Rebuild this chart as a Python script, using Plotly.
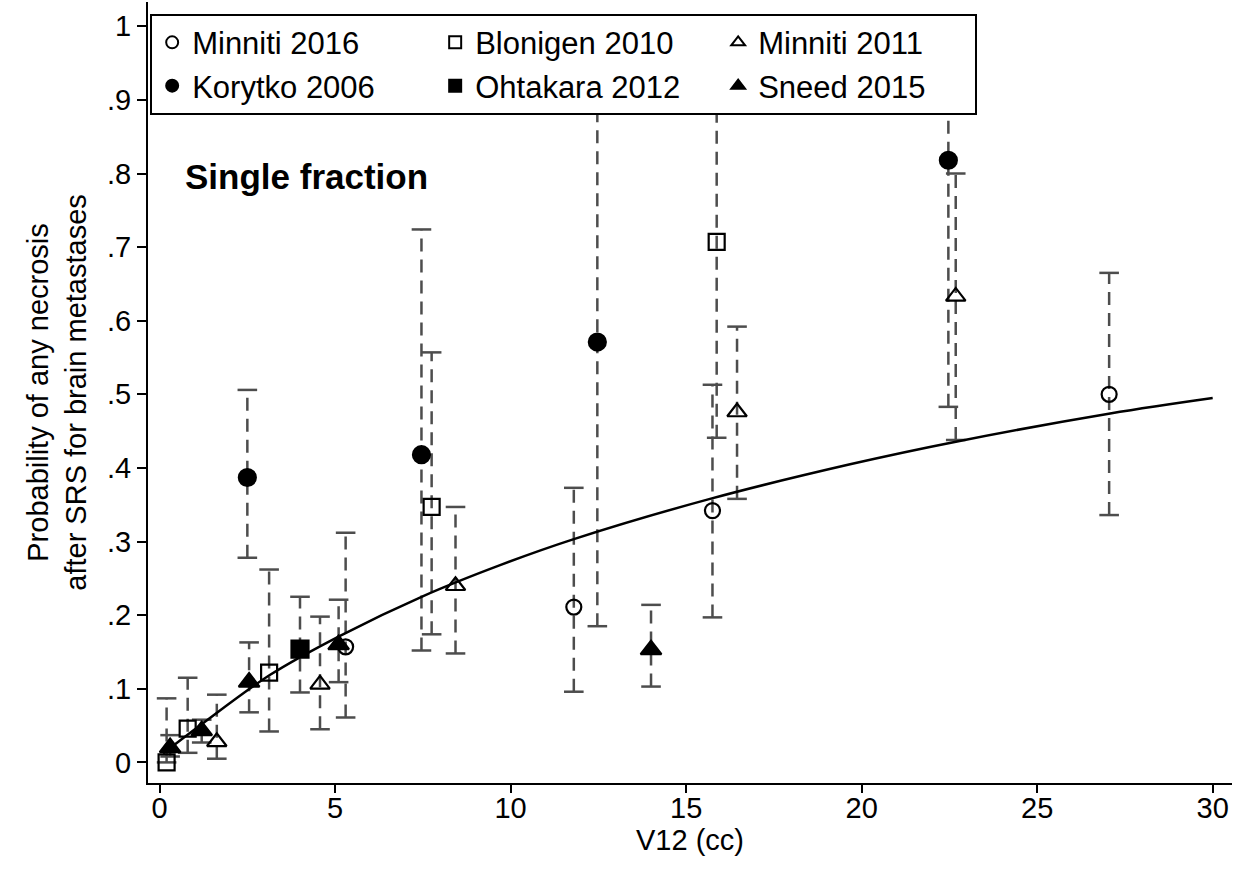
import plotly.graph_objects as go

# ---------------- data ----------------
minniti2016_x = [5.3, 11.8, 15.75, 27.05]
minniti2016_y = [0.157, 0.211, 0.342, 0.500]
minniti2016_lo = [0.061, 0.096, 0.197, 0.336]
minniti2016_hi = [0.312, 0.373, 0.513, 0.665]

korytko2006_x = [2.5, 7.46, 12.47, 22.47]
korytko2006_y = [0.387, 0.418, 0.571, 0.818]
korytko2006_lo = [0.278, 0.152, 0.185, 0.483]
korytko2006_hi = [0.506, 0.724, 0.93, 0.95]

blonigen2010_x = [0.2, 0.8, 3.12, 7.75, 15.87]
blonigen2010_y = [0.0, 0.046, 0.122, 0.347, 0.707]
blonigen2010_lo = [0.0, 0.013, 0.042, 0.174, 0.441]
blonigen2010_hi = [0.087, 0.115, 0.262, 0.557, 0.93]

ohtakara2012_x = [4.0]
ohtakara2012_y = [0.154]
ohtakara2012_lo = [0.095]
ohtakara2012_hi = [0.225]

minniti2011_x = [1.63, 4.57, 8.43, 16.45, 22.68]
minniti2011_y = [0.028, 0.106, 0.240, 0.476, 0.633]
minniti2011_lo = [0.005, 0.045, 0.148, 0.358, 0.438]
minniti2011_hi = [0.092, 0.198, 0.347, 0.592, 0.800]

sneed2015_x = [0.3, 1.2, 2.55, 5.1, 14.0]
sneed2015_y = [0.020, 0.043, 0.109, 0.160, 0.153]
sneed2015_lo = [0.008, 0.027, 0.068, 0.109, 0.103]
sneed2015_hi = [0.037, 0.058, 0.163, 0.221, 0.214]

# fitted curve, points
curve_x = [0.1, 1.15, 3.15, 5.14, 7.51, 9.70, 11.78, 15.68, 19.67, 22.72, 27.08, 30.0]
curve_y = [0.012, 0.050, 0.119, 0.172, 0.226, 0.268, 0.303, 0.358, 0.405, 0.436, 0.474, 0.495]

x_ticks = [0, 5, 10, 15, 20, 25, 30]
y_ticks = [0, 0.1, 0.2, 0.3, 0.4, 0.5, 0.6, 0.7, 0.8, 0.9, 1.0]
y_ticklabels = ["0", ".1", ".2", ".3", ".4", ".5", ".6", ".7", ".8", ".9", "1"]

series = [
    ("Minniti 2016", minniti2016_x, minniti2016_y, minniti2016_lo, minniti2016_hi, "circle-open", 15),
    ("Korytko 2006", korytko2006_x, korytko2006_y, korytko2006_lo, korytko2006_hi, "circle", 17),
    ("Blonigen 2010", blonigen2010_x, blonigen2010_y, blonigen2010_lo, blonigen2010_hi, "square-open", 16),
    ("Ohtakara 2012", ohtakara2012_x, ohtakara2012_y, ohtakara2012_lo, ohtakara2012_hi, "square", 17),
    ("Minniti 2011", minniti2011_x, minniti2011_y, minniti2011_lo, minniti2011_hi, "triangle-up-open", 17),
    ("Sneed 2015", sneed2015_x, sneed2015_y, sneed2015_lo, sneed2015_hi, "triangle-up", 18),
]
legend_order = ["Minniti 2016", "Blonigen 2010", "Minniti 2011",
                "Korytko 2006", "Ohtakara 2012", "Sneed 2015"]
last_column = {"Minniti 2011", "Sneed 2015"}

FONT = "Liberation Sans, Arial, sans-serif"
BAR_COLOR = "#4d4d4d"

fig = go.Figure()

# dashed confidence intervals with caps
for name, xs, ys, lo, hi, sym, sz in series:
    lx, ly = [], []
    for xv, l, h in zip(xs, lo, hi):
        lx += [xv, xv, None]
        ly += [l, h, None]
    fig.add_trace(go.Scatter(x=lx, y=ly, mode="lines", showlegend=False, hoverinfo="skip",
                             line=dict(color=BAR_COLOR, width=2.5, dash="13px,8px")))
    fig.add_trace(go.Scatter(x=list(xs) + list(xs), y=list(lo) + list(hi), mode="markers",
                             showlegend=False, hoverinfo="skip",
                             marker=dict(symbol="line-ew", size=14,
                                         line=dict(color=BAR_COLOR, width=2.5))))

# fitted curve
fig.add_trace(go.Scatter(x=curve_x, y=curve_y, mode="lines", showlegend=False,
                         line=dict(color="black", width=2.5, shape="spline", smoothing=1.0)))

# point estimates
by_name = {s[0]: s for s in series}
for name in legend_order:
    _, xs, ys, lo, hi, sym, sz = by_name[name]
    kw = {}
    if name in last_column:
        kw["legendwidth"] = 212
    fig.add_trace(go.Scatter(x=xs, y=ys, mode="markers", name=name,
                             marker=dict(symbol=sym, size=sz, color="black",
                                         line=dict(color="black", width=2.2)), **kw))

fig.add_annotation(text="<b>Single fraction</b>", xref="paper", yref="paper",
                   x=0.032, y=0.777, xanchor="left", yanchor="middle", showarrow=False,
                   font=dict(family=FONT, size=35, color="black"))

fig.update_layout(
    width=1250, height=876,
    margin=dict(l=148, r=18, t=2, b=93),
    paper_bgcolor="white", plot_bgcolor="white",
    font=dict(family=FONT, size=29, color="black"),
    legend=dict(orientation="h", x=0.002, y=0.985, xanchor="left", yanchor="top",
                bgcolor="white", bordercolor="black", borderwidth=2,
                entrywidth=238, entrywidthmode="pixels",
                font=dict(family=FONT, size=31, color="black"),
                traceorder="normal", itemsizing="constant"),
)
fig.update_xaxes(range=[-0.33, 30.55], tickvals=x_ticks, ticks="outside", ticklen=8,
                 tickwidth=2, tickcolor="black", showline=True, linecolor="black", linewidth=2,
                 showgrid=False, zeroline=False, tickfont=dict(size=29), ticklabelstandoff=-10,
                 title=dict(text="V12 (cc)", font=dict(size=29), standoff=4))
fig.update_yaxes(range=[-0.028, 1.033], tickvals=y_ticks, ticktext=y_ticklabels,
                 ticks="outside", ticklen=9, tickwidth=2, tickcolor="black",
                 showline=True, linecolor="black", linewidth=2, showgrid=False, zeroline=False,
                 tickfont=dict(size=29),
                 title=dict(text="Probability of any necrosis<br>after SRS for brain metastases",
                            font=dict(size=29), standoff=12))

fig.write_html("out.html")
